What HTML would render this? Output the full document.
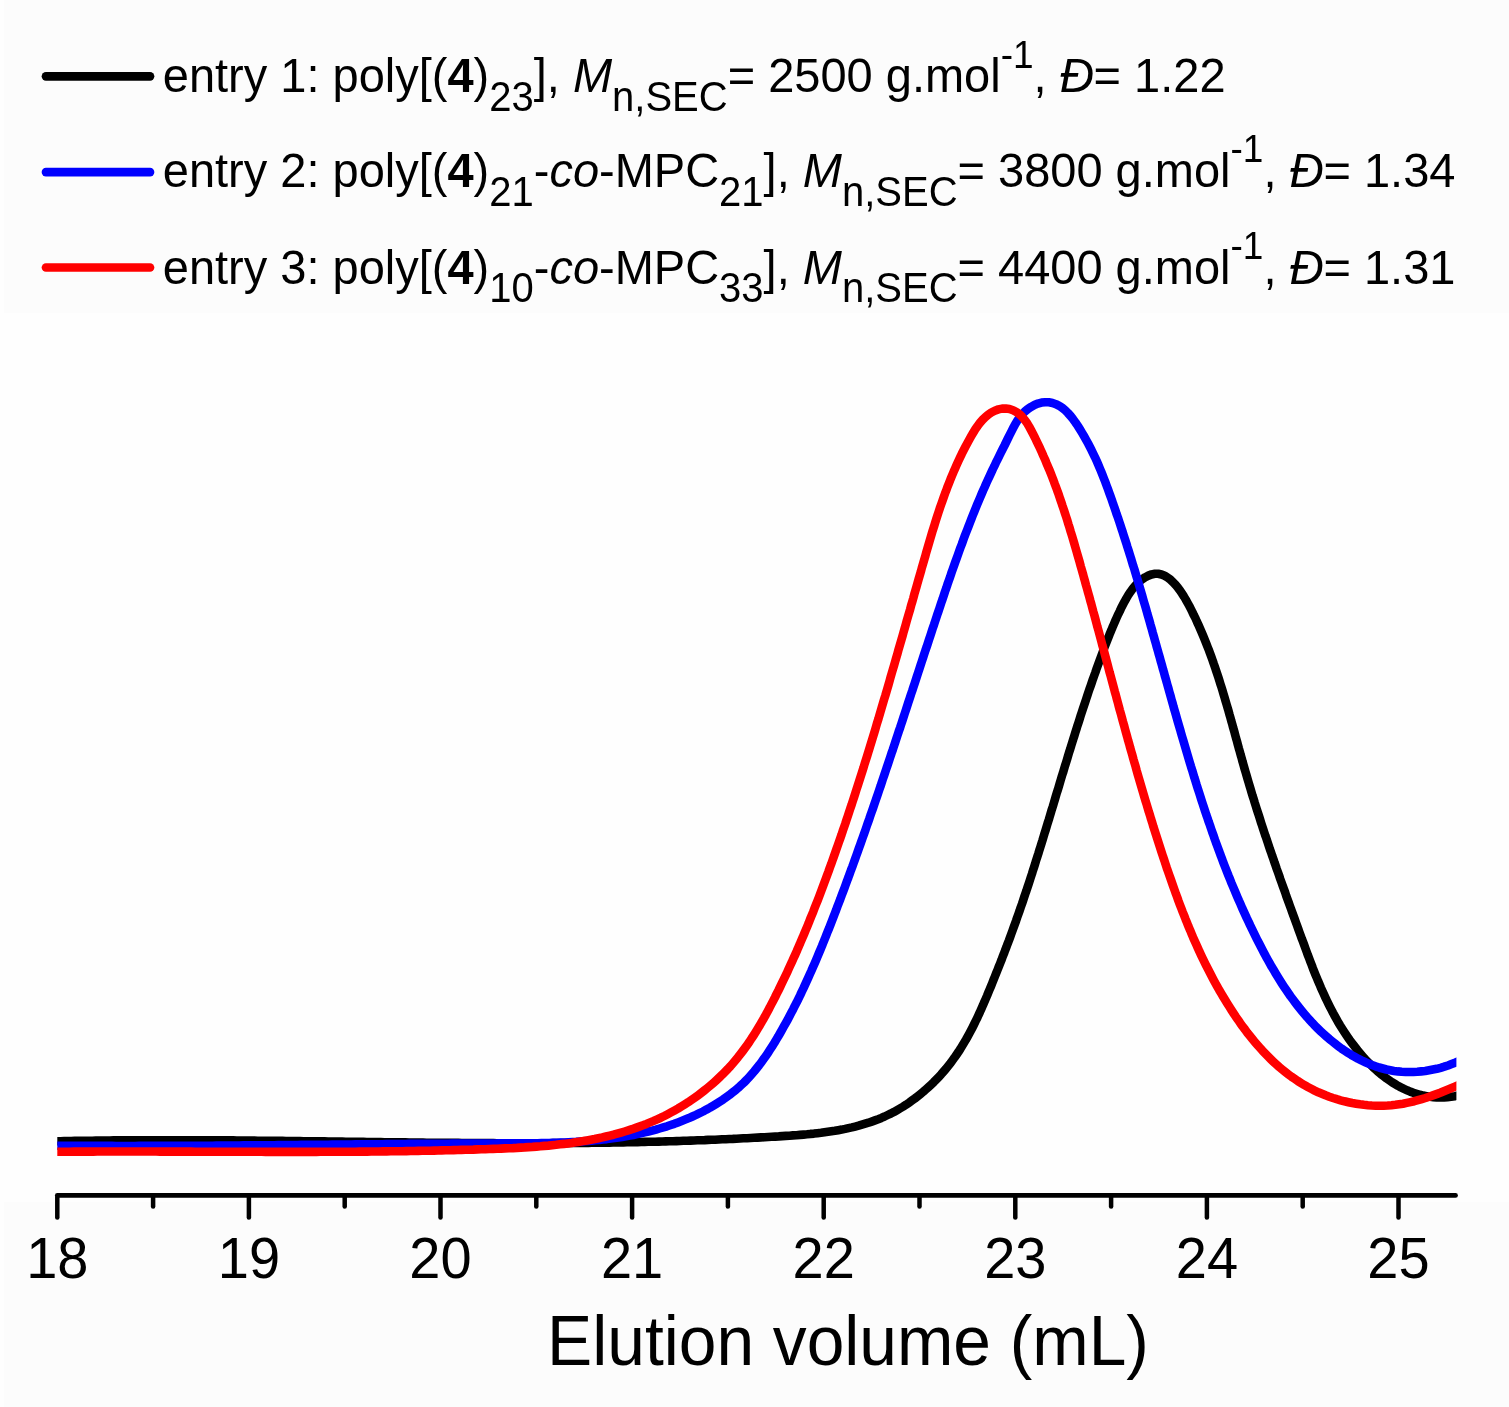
<!DOCTYPE html>
<html><head><meta charset="utf-8"><title>SEC traces</title>
<style>
html,body{margin:0;padding:0;background:#fefefe;}
svg{display:block;}
text{font-family:"Liberation Sans",Arial,sans-serif;fill:#000;}
</style></head><body>
<svg width="1509" height="1407" viewBox="0 0 1509 1407">
<rect x="0" y="0" width="1509" height="1407" fill="#fefefe"/>
<rect x="4" y="0" width="1505" height="313" fill="#fcfcfc"/>
<rect x="4" y="1202" width="1505" height="205" fill="#fcfcfc"/>
<g stroke-linecap="round" stroke-width="8.7">
<line x1="46" y1="76.3" x2="150" y2="76.3" stroke="#000"/>
<line x1="46" y1="172.1" x2="150" y2="172.1" stroke="#0000ff"/>
<line x1="46" y1="267.5" x2="150" y2="267.5" stroke="#ff0000"/>
</g>
<g font-size="47">
<text x="162.8" y="92.5" transform="matrix(1 0 0 1.040 0 -3.70)">entry 1: poly[(<tspan font-weight="bold">4</tspan>)<tspan dy="18" font-size="40">23</tspan><tspan dy="-18">], </tspan><tspan font-style="italic">M</tspan><tspan dy="18" font-size="40">n,SEC</tspan><tspan dy="-18">= 2500 g.mol</tspan><tspan dy="-24" font-size="37">-1</tspan><tspan dy="24">, </tspan><tspan font-style="italic">Đ</tspan>= 1.22</text>
<text x="162.8" y="187.3" transform="matrix(1 0 0 1.040 0 -7.49)">entry 2: poly[(<tspan font-weight="bold">4</tspan>)<tspan dy="18" font-size="40">21</tspan><tspan dy="-18">-</tspan><tspan font-style="italic">co</tspan>-MPC<tspan dy="18" font-size="40">21</tspan><tspan dy="-18">], </tspan><tspan font-style="italic">M</tspan><tspan dy="18" font-size="40">n,SEC</tspan><tspan dy="-18">= 3800 g.mol</tspan><tspan dy="-24" font-size="37">-1</tspan><tspan dy="24">, </tspan><tspan font-style="italic">Đ</tspan>= 1.34</text>
<text x="162.8" y="283.6" transform="matrix(1 0 0 1.040 0 -11.34)">entry 3: poly[(<tspan font-weight="bold">4</tspan>)<tspan dy="18" font-size="40">10</tspan><tspan dy="-18">-</tspan><tspan font-style="italic">co</tspan>-MPC<tspan dy="18" font-size="40">33</tspan><tspan dy="-18">], </tspan><tspan font-style="italic">M</tspan><tspan dy="18" font-size="40">n,SEC</tspan><tspan dy="-18">= 4400 g.mol</tspan><tspan dy="-24" font-size="37">-1</tspan><tspan dy="24">, </tspan><tspan font-style="italic">Đ</tspan>= 1.31</text>
</g>
<defs><clipPath id="pc"><rect x="57.3" y="300" width="1399.1" height="880"/></clipPath></defs>
<g clip-path="url(#pc)" fill="none" stroke-width="8.6" stroke-linejoin="round" stroke-linecap="butt">
<path d="M50.0 1141.4 L53.5 1141.3 L57.0 1141.3 L60.6 1141.2 L64.1 1141.1 L67.6 1141.0 L71.2 1141.0 L74.7 1140.9 L78.2 1140.9 L81.7 1140.8 L85.3 1140.8 L88.8 1140.7 L92.3 1140.7 L95.8 1140.6 L99.4 1140.6 L102.9 1140.5 L106.4 1140.5 L109.9 1140.5 L113.5 1140.4 L117.0 1140.4 L120.5 1140.4 L124.0 1140.3 L127.6 1140.3 L131.1 1140.3 L134.6 1140.3 L138.1 1140.3 L141.7 1140.2 L145.2 1140.2 L148.7 1140.2 L152.2 1140.2 L155.8 1140.2 L159.3 1140.2 L162.8 1140.2 L166.3 1140.2 L169.8 1140.2 L173.4 1140.2 L176.9 1140.2 L180.4 1140.2 L183.9 1140.2 L187.4 1140.2 L191.0 1140.2 L194.5 1140.2 L198.0 1140.2 L201.5 1140.3 L205.0 1140.3 L208.6 1140.3 L212.1 1140.3 L215.6 1140.3 L219.1 1140.3 L222.6 1140.4 L226.2 1140.4 L229.7 1140.4 L233.2 1140.4 L236.7 1140.5 L240.2 1140.5 L243.7 1140.5 L247.3 1140.6 L250.8 1140.6 L254.3 1140.6 L257.8 1140.7 L261.3 1140.7 L264.8 1140.7 L268.4 1140.8 L271.9 1140.8 L275.4 1140.8 L278.9 1140.9 L282.4 1140.9 L285.9 1141.0 L289.5 1141.0 L293.0 1141.0 L296.5 1141.1 L300.0 1141.1 L303.5 1141.2 L307.0 1141.2 L310.6 1141.2 L314.1 1141.3 L317.6 1141.3 L321.1 1141.4 L324.6 1141.4 L328.1 1141.5 L331.6 1141.5 L335.2 1141.6 L338.7 1141.6 L342.2 1141.6 L345.7 1141.7 L349.2 1141.7 L352.7 1141.8 L356.2 1141.8 L359.8 1141.9 L363.3 1141.9 L366.8 1142.0 L370.3 1142.0 L373.8 1142.0 L377.3 1142.1 L380.8 1142.1 L384.4 1142.2 L387.9 1142.2 L391.4 1142.3 L394.9 1142.3 L398.4 1142.3 L401.9 1142.4 L405.5 1142.4 L409.0 1142.5 L412.5 1142.5 L416.0 1142.5 L419.5 1142.6 L423.0 1142.6 L426.5 1142.7 L430.1 1142.7 L433.6 1142.7 L437.1 1142.8 L440.6 1142.8 L444.1 1142.8 L447.6 1142.8 L451.1 1142.9 L454.7 1142.9 L458.2 1142.9 L461.7 1143.0 L465.2 1143.0 L468.7 1143.0 L472.2 1143.0 L475.8 1143.1 L479.3 1143.1 L482.8 1143.1 L486.3 1143.1 L489.8 1143.1 L493.3 1143.1 L496.8 1143.2 L500.4 1143.2 L503.9 1143.2 L507.4 1143.2 L510.9 1143.2 L514.4 1143.2 L517.9 1143.2 L521.5 1143.2 L525.0 1143.2 L528.5 1143.2 L532.0 1143.2 L535.5 1143.2 L539.0 1143.2 L542.6 1143.2 L546.1 1143.2 L549.6 1143.2 L553.1 1143.1 L556.6 1143.1 L560.2 1143.1 L563.7 1143.1 L567.2 1143.1 L570.7 1143.0 L574.2 1143.0 L577.8 1143.0 L581.3 1142.9 L584.8 1142.9 L588.3 1142.9 L591.8 1142.8 L595.4 1142.8 L598.9 1142.7 L602.4 1142.7 L605.9 1142.7 L609.4 1142.6 L613.0 1142.5 L616.5 1142.5 L620.0 1142.4 L623.5 1142.4 L627.0 1142.3 L630.6 1142.2 L634.1 1142.2 L637.6 1142.1 L641.1 1142.0 L644.7 1141.9 L648.2 1141.8 L651.7 1141.8 L655.2 1141.7 L658.8 1141.6 L662.3 1141.5 L665.8 1141.4 L669.3 1141.3 L672.9 1141.2 L676.4 1141.1 L679.9 1141.0 L683.4 1140.8 L687.0 1140.7 L690.5 1140.6 L694.0 1140.5 L697.5 1140.3 L701.1 1140.2 L704.6 1140.1 L708.1 1139.9 L711.6 1139.8 L715.2 1139.7 L718.7 1139.5 L722.2 1139.3 L725.8 1139.2 L729.3 1139.0 L732.8 1138.9 L736.4 1138.7 L739.9 1138.5 L743.4 1138.3 L747.0 1138.2 L750.5 1138.0 L754.0 1137.8 L757.5 1137.6 L761.1 1137.4 L764.6 1137.2 L768.1 1137.0 L771.7 1136.8 L775.2 1136.6 L778.8 1136.4 L782.3 1136.1 L785.8 1135.9 L789.4 1135.7 L792.9 1135.4 L796.4 1135.2 L799.9 1134.9 L803.5 1134.6 L807.0 1134.3 L810.5 1133.9 L814.0 1133.6 L817.5 1133.2 L821.0 1132.8 L824.5 1132.3 L827.9 1131.8 L831.4 1131.3 L834.8 1130.8 L838.3 1130.2 L841.7 1129.6 L845.1 1128.9 L848.5 1128.1 L851.9 1127.4 L855.2 1126.6 L858.6 1125.7 L861.9 1124.7 L865.2 1123.7 L868.5 1122.7 L871.7 1121.6 L875.0 1120.4 L878.2 1119.2 L881.4 1117.9 L884.6 1116.5 L887.7 1115.0 L890.9 1113.5 L894.0 1111.9 L897.0 1110.2 L900.1 1108.4 L903.1 1106.6 L906.1 1104.7 L909.0 1102.7 L911.9 1100.6 L914.8 1098.5 L917.6 1096.3 L920.4 1094.1 L923.2 1091.8 L925.9 1089.4 L928.6 1087.0 L931.2 1084.6 L933.8 1082.1 L936.3 1079.5 L938.8 1076.9 L941.2 1074.3 L943.5 1071.6 L945.9 1068.9 L948.1 1066.1 L950.3 1063.3 L952.4 1060.5 L954.5 1057.6 L956.5 1054.7 L958.5 1051.8 L960.4 1048.9 L962.2 1045.9 L964.0 1042.9 L965.8 1039.9 L967.5 1036.9 L969.2 1033.8 L970.8 1030.8 L972.4 1027.7 L974.0 1024.5 L975.5 1021.4 L977.1 1018.3 L978.5 1015.1 L980.0 1011.9 L981.4 1008.7 L982.8 1005.6 L984.2 1002.3 L985.6 999.1 L987.0 995.9 L988.3 992.7 L989.6 989.5 L991.0 986.2 L992.3 983.0 L993.6 979.7 L994.9 976.5 L996.2 973.2 L997.5 970.0 L998.8 966.7 L1000.1 963.5 L1001.4 960.2 L1002.6 956.9 L1003.9 953.7 L1005.1 950.4 L1006.4 947.1 L1007.6 943.8 L1008.9 940.5 L1010.1 937.2 L1011.3 933.9 L1012.5 930.6 L1013.7 927.3 L1014.9 924.0 L1016.1 920.7 L1017.2 917.4 L1018.4 914.1 L1019.6 910.8 L1020.7 907.4 L1021.9 904.1 L1023.0 900.8 L1024.1 897.4 L1025.2 894.1 L1026.4 890.8 L1027.5 887.4 L1028.6 884.1 L1029.7 880.7 L1030.8 877.3 L1031.9 874.0 L1032.9 870.6 L1034.0 867.3 L1035.1 863.9 L1036.1 860.5 L1037.2 857.2 L1038.3 853.8 L1039.3 850.4 L1040.4 847.0 L1041.4 843.7 L1042.5 840.3 L1043.5 836.9 L1044.5 833.5 L1045.6 830.1 L1046.6 826.8 L1047.6 823.4 L1048.7 820.0 L1049.7 816.6 L1050.7 813.2 L1051.7 809.8 L1052.8 806.5 L1053.8 803.1 L1054.8 799.7 L1055.8 796.3 L1056.8 792.9 L1057.9 789.6 L1058.9 786.2 L1059.9 782.8 L1060.9 779.4 L1061.9 776.0 L1063.0 772.7 L1064.0 769.3 L1065.0 765.9 L1066.1 762.5 L1067.1 759.2 L1068.1 755.8 L1069.1 752.4 L1070.2 749.1 L1071.2 745.7 L1072.3 742.3 L1073.3 739.0 L1074.4 735.6 L1075.4 732.3 L1076.5 728.9 L1077.5 725.6 L1078.6 722.3 L1079.7 718.9 L1080.7 715.6 L1081.8 712.2 L1082.9 708.9 L1084.0 705.6 L1085.1 702.3 L1086.2 699.0 L1087.3 695.7 L1088.4 692.3 L1089.5 689.0 L1090.7 685.7 L1091.8 682.5 L1092.9 679.2 L1094.1 675.9 L1095.3 672.6 L1096.4 669.3 L1097.6 666.1 L1098.8 662.8 L1100.0 659.5 L1101.2 656.3 L1102.4 653.1 L1103.6 649.8 L1104.8 646.6 L1106.0 643.4 L1107.3 640.1 L1108.6 636.9 L1109.8 633.7 L1111.2 630.5 L1112.5 627.3 L1113.9 624.1 L1115.3 620.8 L1116.7 617.6 L1118.2 614.3 L1119.8 611.1 L1121.3 607.8 L1123.0 604.5 L1124.7 601.3 L1126.5 598.1 L1128.4 594.9 L1130.4 591.9 L1132.5 589.0 L1134.8 586.2 L1137.2 583.6 L1139.7 581.2 L1142.4 579.1 L1145.3 577.2 L1148.4 575.6 L1151.6 574.4 L1154.9 573.8 L1158.2 573.8 L1161.5 574.5 L1164.7 575.8 L1167.7 577.6 L1170.6 579.8 L1173.2 582.3 L1175.7 585.0 L1178.0 587.8 L1180.1 590.6 L1182.1 593.6 L1184.0 596.6 L1185.8 599.6 L1187.5 602.7 L1189.2 605.8 L1190.8 608.9 L1192.4 612.1 L1193.9 615.3 L1195.5 618.4 L1196.9 621.6 L1198.4 624.8 L1199.8 628.0 L1201.2 631.2 L1202.6 634.5 L1203.9 637.7 L1205.2 640.9 L1206.5 644.2 L1207.8 647.5 L1209.1 650.7 L1210.3 654.0 L1211.5 657.3 L1212.7 660.6 L1213.8 663.9 L1215.0 667.2 L1216.1 670.6 L1217.2 673.9 L1218.3 677.2 L1219.4 680.6 L1220.4 683.9 L1221.5 687.3 L1222.5 690.6 L1223.5 694.0 L1224.5 697.3 L1225.5 700.7 L1226.5 704.1 L1227.5 707.5 L1228.5 710.8 L1229.4 714.2 L1230.4 717.6 L1231.3 721.0 L1232.3 724.4 L1233.2 727.8 L1234.2 731.2 L1235.1 734.6 L1236.0 738.0 L1237.0 741.4 L1237.9 744.8 L1238.8 748.2 L1239.8 751.6 L1240.7 755.0 L1241.7 758.4 L1242.6 761.8 L1243.6 765.2 L1244.5 768.5 L1245.5 771.9 L1246.5 775.3 L1247.5 778.7 L1248.5 782.1 L1249.5 785.5 L1250.5 788.8 L1251.5 792.2 L1252.5 795.6 L1253.6 798.9 L1254.6 802.3 L1255.7 805.7 L1256.7 809.0 L1257.8 812.4 L1258.9 815.7 L1260.0 819.1 L1261.0 822.4 L1262.1 825.8 L1263.2 829.1 L1264.3 832.5 L1265.4 835.8 L1266.6 839.1 L1267.7 842.5 L1268.8 845.8 L1269.9 849.2 L1271.1 852.5 L1272.2 855.8 L1273.4 859.1 L1274.5 862.5 L1275.7 865.8 L1276.8 869.1 L1278.0 872.4 L1279.2 875.8 L1280.3 879.1 L1281.5 882.4 L1282.7 885.7 L1283.9 889.0 L1285.1 892.3 L1286.2 895.7 L1287.4 899.0 L1288.6 902.3 L1289.8 905.6 L1291.0 908.9 L1292.2 912.2 L1293.4 915.5 L1294.6 918.8 L1295.8 922.1 L1297.0 925.4 L1298.2 928.8 L1299.4 932.1 L1300.6 935.4 L1301.8 938.7 L1303.1 942.0 L1304.3 945.3 L1305.5 948.6 L1306.7 951.9 L1307.9 955.2 L1309.2 958.5 L1310.4 961.7 L1311.7 965.0 L1312.9 968.3 L1314.2 971.6 L1315.5 974.8 L1316.9 978.1 L1318.2 981.3 L1319.6 984.5 L1320.9 987.7 L1322.4 991.0 L1323.8 994.1 L1325.3 997.3 L1326.8 1000.5 L1328.3 1003.6 L1329.9 1006.8 L1331.5 1009.9 L1333.1 1013.0 L1334.8 1016.1 L1336.5 1019.1 L1338.2 1022.2 L1340.0 1025.2 L1341.9 1028.2 L1343.8 1031.2 L1345.7 1034.1 L1347.7 1037.1 L1349.7 1040.0 L1351.8 1042.8 L1354.0 1045.7 L1356.2 1048.5 L1358.4 1051.3 L1360.7 1054.0 L1363.0 1056.7 L1365.4 1059.4 L1367.9 1062.0 L1370.4 1064.5 L1372.9 1067.0 L1375.5 1069.4 L1378.1 1071.7 L1380.8 1074.0 L1383.6 1076.2 L1386.3 1078.3 L1389.2 1080.3 L1392.0 1082.2 L1395.0 1084.0 L1397.9 1085.8 L1400.9 1087.4 L1404.0 1088.9 L1407.1 1090.3 L1410.2 1091.6 L1413.4 1092.8 L1416.6 1093.8 L1419.9 1094.8 L1423.2 1095.6 L1426.5 1096.2 L1429.9 1096.8 L1433.3 1097.1 L1436.8 1097.4 L1440.3 1097.4 L1443.9 1097.4 L1447.4 1097.1 L1451.1 1096.7 L1454.7 1096.2 L1458.4 1095.4 L1462.1 1094.5" stroke="#000"/>
<path d="M50.0 1145.7 L53.9 1145.7 L57.7 1145.7 L61.6 1145.7 L65.5 1145.8 L69.4 1145.8 L73.3 1145.8 L77.1 1145.8 L81.0 1145.9 L84.9 1145.9 L88.8 1145.9 L92.6 1145.9 L96.5 1145.9 L100.4 1145.9 L104.3 1145.9 L108.1 1145.9 L112.0 1145.9 L115.9 1146.0 L119.7 1146.0 L123.6 1146.0 L127.5 1146.0 L131.4 1146.0 L135.2 1146.0 L139.1 1145.9 L143.0 1145.9 L146.8 1145.9 L150.7 1145.9 L154.6 1145.9 L158.4 1145.9 L162.3 1145.9 L166.2 1145.9 L170.0 1145.9 L173.9 1145.9 L177.7 1145.8 L181.6 1145.8 L185.5 1145.8 L189.3 1145.8 L193.2 1145.8 L197.1 1145.7 L200.9 1145.7 L204.8 1145.7 L208.6 1145.7 L212.5 1145.7 L216.4 1145.6 L220.2 1145.6 L224.1 1145.6 L228.0 1145.5 L231.8 1145.5 L235.7 1145.5 L239.5 1145.5 L243.4 1145.4 L247.3 1145.4 L251.1 1145.4 L255.0 1145.3 L258.8 1145.3 L262.7 1145.3 L266.6 1145.2 L270.4 1145.2 L274.3 1145.2 L278.1 1145.1 L282.0 1145.1 L285.9 1145.1 L289.7 1145.0 L293.6 1145.0 L297.4 1145.0 L301.3 1144.9 L305.2 1144.9 L309.0 1144.9 L312.9 1144.8 L316.7 1144.8 L320.6 1144.7 L324.5 1144.7 L328.3 1144.7 L332.2 1144.6 L336.1 1144.6 L339.9 1144.6 L343.8 1144.5 L347.6 1144.5 L351.5 1144.5 L355.4 1144.4 L359.2 1144.4 L363.1 1144.3 L367.0 1144.3 L370.8 1144.3 L374.7 1144.2 L378.6 1144.2 L382.4 1144.2 L386.3 1144.1 L390.2 1144.1 L394.0 1144.1 L397.9 1144.0 L401.8 1144.0 L405.6 1144.0 L409.5 1143.9 L413.4 1143.9 L417.2 1143.9 L421.1 1143.9 L425.0 1143.8 L428.8 1143.8 L432.7 1143.8 L436.6 1143.7 L440.5 1143.7 L444.3 1143.7 L448.2 1143.7 L452.1 1143.6 L456.0 1143.6 L459.8 1143.6 L463.7 1143.6 L467.6 1143.6 L471.5 1143.5 L475.4 1143.5 L479.2 1143.5 L483.1 1143.5 L487.0 1143.5 L490.9 1143.5 L494.8 1143.5 L498.7 1143.4 L502.5 1143.4 L506.4 1143.4 L510.3 1143.4 L514.2 1143.4 L518.1 1143.4 L522.0 1143.4 L525.9 1143.3 L529.7 1143.3 L533.6 1143.3 L537.5 1143.2 L541.4 1143.1 L545.3 1143.1 L549.1 1143.0 L553.0 1142.9 L556.9 1142.8 L560.8 1142.6 L564.6 1142.5 L568.5 1142.3 L572.4 1142.1 L576.2 1141.9 L580.1 1141.6 L583.9 1141.3 L587.8 1141.0 L591.6 1140.7 L595.4 1140.3 L599.3 1140.0 L603.1 1139.5 L606.9 1139.1 L610.7 1138.6 L614.5 1138.1 L618.3 1137.5 L622.1 1136.9 L625.9 1136.3 L629.7 1135.6 L633.4 1134.9 L637.2 1134.1 L640.9 1133.3 L644.7 1132.4 L648.4 1131.5 L652.2 1130.6 L655.9 1129.6 L659.6 1128.5 L663.3 1127.4 L667.0 1126.3 L670.7 1125.0 L674.3 1123.8 L678.0 1122.4 L681.6 1121.0 L685.2 1119.6 L688.9 1118.1 L692.4 1116.5 L696.0 1114.9 L699.5 1113.2 L703.0 1111.5 L706.4 1109.6 L709.8 1107.8 L713.2 1105.8 L716.5 1103.8 L719.8 1101.7 L723.0 1099.6 L726.2 1097.3 L729.3 1095.1 L732.3 1092.7 L735.3 1090.3 L738.3 1087.8 L741.1 1085.2 L743.9 1082.6 L746.6 1079.9 L749.2 1077.1 L751.8 1074.2 L754.3 1071.3 L756.7 1068.3 L759.1 1065.3 L761.4 1062.2 L763.6 1059.1 L765.9 1056.0 L768.0 1052.8 L770.1 1049.5 L772.2 1046.3 L774.3 1043.0 L776.3 1039.6 L778.3 1036.3 L780.2 1033.0 L782.1 1029.6 L784.0 1026.2 L785.9 1022.8 L787.8 1019.5 L789.6 1016.0 L791.4 1012.6 L793.2 1009.2 L794.9 1005.7 L796.7 1002.3 L798.4 998.8 L800.1 995.4 L801.7 991.9 L803.4 988.4 L805.0 984.9 L806.6 981.4 L808.2 977.9 L809.8 974.3 L811.4 970.8 L812.9 967.3 L814.5 963.7 L816.0 960.2 L817.5 956.6 L819.0 953.0 L820.5 949.5 L822.0 945.9 L823.4 942.3 L824.9 938.7 L826.3 935.1 L827.7 931.5 L829.2 928.0 L830.6 924.4 L832.0 920.7 L833.4 917.1 L834.8 913.5 L836.2 909.9 L837.5 906.3 L838.9 902.7 L840.3 899.1 L841.6 895.5 L843.0 891.9 L844.4 888.2 L845.7 884.6 L847.0 881.0 L848.4 877.4 L849.7 873.7 L851.0 870.1 L852.4 866.5 L853.7 862.9 L855.0 859.2 L856.3 855.6 L857.6 852.0 L858.9 848.3 L860.2 844.7 L861.5 841.0 L862.8 837.4 L864.1 833.8 L865.4 830.1 L866.6 826.5 L867.9 822.8 L869.2 819.2 L870.4 815.5 L871.7 811.9 L873.0 808.2 L874.2 804.6 L875.5 800.9 L876.7 797.3 L878.0 793.6 L879.2 790.0 L880.5 786.3 L881.7 782.6 L882.9 779.0 L884.2 775.3 L885.4 771.7 L886.6 768.0 L887.9 764.3 L889.1 760.7 L890.3 757.0 L891.5 753.3 L892.8 749.7 L894.0 746.0 L895.2 742.3 L896.4 738.7 L897.6 735.0 L898.8 731.3 L900.1 727.7 L901.3 724.0 L902.5 720.3 L903.7 716.6 L904.9 713.0 L906.1 709.3 L907.3 705.6 L908.5 701.9 L909.7 698.3 L910.9 694.6 L912.2 690.9 L913.4 687.2 L914.6 683.6 L915.8 679.9 L917.0 676.2 L918.2 672.5 L919.4 668.9 L920.6 665.2 L921.8 661.5 L923.0 657.8 L924.2 654.2 L925.4 650.5 L926.7 646.8 L927.9 643.1 L929.1 639.4 L930.3 635.8 L931.5 632.1 L932.7 628.4 L934.0 624.7 L935.2 621.0 L936.4 617.4 L937.6 613.7 L938.9 610.0 L940.1 606.3 L941.3 602.7 L942.6 599.0 L943.8 595.3 L945.0 591.6 L946.3 588.0 L947.5 584.3 L948.8 580.6 L950.1 577.0 L951.3 573.3 L952.6 569.6 L953.9 566.0 L955.2 562.3 L956.5 558.7 L957.8 555.1 L959.1 551.4 L960.4 547.8 L961.8 544.2 L963.1 540.5 L964.4 536.9 L965.8 533.3 L967.2 529.7 L968.6 526.1 L970.0 522.5 L971.4 518.9 L972.8 515.3 L974.2 511.8 L975.7 508.2 L977.1 504.7 L978.6 501.1 L980.1 497.6 L981.6 494.0 L983.1 490.5 L984.7 487.0 L986.2 483.5 L987.8 480.0 L989.4 476.6 L991.0 473.1 L992.6 469.6 L994.3 466.2 L995.9 462.7 L997.6 459.3 L999.3 455.9 L1001.0 452.4 L1002.7 449.0 L1004.5 445.5 L1006.2 442.0 L1007.9 438.5 L1009.7 434.9 L1011.5 431.3 L1013.3 427.8 L1015.2 424.2 L1017.3 420.8 L1019.5 417.6 L1022.0 414.5 L1024.7 411.6 L1027.7 409.1 L1031.0 406.9 L1034.4 405.0 L1037.9 403.6 L1041.6 402.6 L1045.2 402.2 L1048.9 402.3 L1052.5 403.0 L1055.9 404.2 L1059.2 405.8 L1062.3 407.9 L1065.2 410.3 L1067.9 413.0 L1070.6 416.0 L1073.1 419.2 L1075.5 422.5 L1077.8 425.9 L1080.0 429.4 L1082.1 432.9 L1084.1 436.3 L1086.1 439.8 L1088.0 443.3 L1089.8 446.8 L1091.6 450.3 L1093.3 453.8 L1095.0 457.3 L1096.6 460.8 L1098.1 464.3 L1099.6 467.9 L1101.1 471.4 L1102.5 474.9 L1103.9 478.5 L1105.3 482.0 L1106.6 485.6 L1107.9 489.1 L1109.2 492.7 L1110.5 496.3 L1111.8 499.9 L1113.0 503.5 L1114.3 507.1 L1115.5 510.7 L1116.7 514.3 L1118.0 517.9 L1119.2 521.5 L1120.4 525.1 L1121.6 528.8 L1122.8 532.4 L1123.9 536.0 L1125.1 539.7 L1126.3 543.3 L1127.4 547.0 L1128.6 550.7 L1129.7 554.3 L1130.9 558.0 L1132.0 561.7 L1133.1 565.4 L1134.3 569.0 L1135.4 572.7 L1136.5 576.4 L1137.6 580.1 L1138.7 583.8 L1139.8 587.5 L1140.9 591.2 L1142.0 594.9 L1143.0 598.6 L1144.1 602.4 L1145.2 606.1 L1146.3 609.8 L1147.3 613.5 L1148.4 617.2 L1149.5 621.0 L1150.5 624.7 L1151.6 628.4 L1152.6 632.2 L1153.7 635.9 L1154.7 639.6 L1155.8 643.4 L1156.8 647.1 L1157.9 650.9 L1158.9 654.6 L1160.0 658.3 L1161.0 662.1 L1162.1 665.8 L1163.1 669.6 L1164.2 673.3 L1165.2 677.1 L1166.3 680.8 L1167.3 684.5 L1168.4 688.3 L1169.4 692.0 L1170.5 695.8 L1171.5 699.5 L1172.6 703.3 L1173.6 707.0 L1174.7 710.7 L1175.8 714.5 L1176.8 718.2 L1177.9 722.0 L1179.0 725.7 L1180.1 729.4 L1181.1 733.1 L1182.2 736.9 L1183.3 740.6 L1184.4 744.3 L1185.5 748.0 L1186.6 751.8 L1187.7 755.5 L1188.8 759.2 L1189.9 762.9 L1191.0 766.6 L1192.2 770.3 L1193.3 774.0 L1194.4 777.7 L1195.6 781.4 L1196.7 785.1 L1197.9 788.8 L1199.1 792.5 L1200.2 796.1 L1201.4 799.8 L1202.6 803.5 L1203.8 807.1 L1205.0 810.8 L1206.2 814.5 L1207.5 818.1 L1208.7 821.8 L1210.0 825.4 L1211.2 829.0 L1212.5 832.7 L1213.8 836.3 L1215.0 839.9 L1216.3 843.5 L1217.7 847.2 L1219.0 850.8 L1220.3 854.4 L1221.7 858.0 L1223.0 861.6 L1224.4 865.2 L1225.8 868.8 L1227.2 872.3 L1228.6 875.9 L1230.1 879.5 L1231.5 883.1 L1233.0 886.6 L1234.5 890.2 L1236.0 893.7 L1237.5 897.3 L1239.0 900.8 L1240.6 904.3 L1242.1 907.9 L1243.7 911.4 L1245.3 914.9 L1246.9 918.4 L1248.6 921.9 L1250.2 925.4 L1251.9 928.9 L1253.6 932.4 L1255.3 935.9 L1257.0 939.3 L1258.8 942.8 L1260.6 946.3 L1262.4 949.7 L1264.2 953.2 L1266.0 956.6 L1267.9 960.0 L1269.8 963.4 L1271.7 966.8 L1273.7 970.1 L1275.7 973.5 L1277.7 976.8 L1279.7 980.1 L1281.8 983.4 L1283.9 986.6 L1286.1 989.8 L1288.3 993.0 L1290.5 996.2 L1292.8 999.3 L1295.1 1002.4 L1297.5 1005.5 L1299.9 1008.5 L1302.3 1011.5 L1304.8 1014.5 L1307.3 1017.4 L1309.9 1020.2 L1312.5 1023.1 L1315.2 1025.9 L1317.9 1028.6 L1320.7 1031.3 L1323.5 1033.9 L1326.4 1036.5 L1329.4 1039.1 L1332.4 1041.5 L1335.4 1043.9 L1338.5 1046.3 L1341.6 1048.6 L1344.8 1050.8 L1348.0 1052.9 L1351.3 1054.9 L1354.6 1056.8 L1358.0 1058.7 L1361.4 1060.4 L1364.9 1062.0 L1368.4 1063.6 L1371.9 1065.0 L1375.5 1066.3 L1379.1 1067.5 L1382.8 1068.5 L1386.5 1069.5 L1390.3 1070.2 L1394.0 1070.9 L1397.9 1071.4 L1401.7 1071.8 L1405.6 1072.0 L1409.5 1072.0 L1413.4 1072.0 L1417.3 1071.8 L1421.3 1071.4 L1425.2 1071.0 L1429.1 1070.3 L1432.9 1069.6 L1436.8 1068.8 L1440.6 1067.8 L1444.3 1066.7 L1448.0 1065.5 L1451.6 1064.1 L1455.1 1062.7 L1458.6 1061.2 L1462.0 1059.5" stroke="#0000ff"/>
<path d="M50.0 1151.8 L53.9 1151.8 L57.9 1151.8 L61.8 1151.7 L65.8 1151.7 L69.7 1151.7 L73.6 1151.6 L77.6 1151.6 L81.5 1151.6 L85.4 1151.6 L89.4 1151.6 L93.3 1151.6 L97.2 1151.5 L101.2 1151.5 L105.1 1151.5 L109.0 1151.5 L113.0 1151.5 L116.9 1151.5 L120.8 1151.5 L124.7 1151.5 L128.7 1151.5 L132.6 1151.5 L136.5 1151.5 L140.4 1151.5 L144.3 1151.5 L148.3 1151.5 L152.2 1151.5 L156.1 1151.5 L160.0 1151.6 L163.9 1151.6 L167.8 1151.6 L171.7 1151.6 L175.7 1151.6 L179.6 1151.6 L183.5 1151.6 L187.4 1151.6 L191.3 1151.6 L195.2 1151.7 L199.1 1151.7 L203.0 1151.7 L207.0 1151.7 L210.9 1151.7 L214.8 1151.7 L218.7 1151.7 L222.6 1151.7 L226.5 1151.8 L230.4 1151.8 L234.3 1151.8 L238.2 1151.8 L242.1 1151.8 L246.0 1151.8 L249.9 1151.8 L253.8 1151.8 L257.7 1151.8 L261.7 1151.8 L265.6 1151.9 L269.5 1151.9 L273.4 1151.9 L277.3 1151.9 L281.2 1151.9 L285.1 1151.9 L289.0 1151.9 L292.9 1151.9 L296.8 1151.9 L300.7 1151.9 L304.6 1151.9 L308.5 1151.9 L312.5 1151.9 L316.4 1151.9 L320.3 1151.8 L324.2 1151.8 L328.1 1151.8 L332.0 1151.8 L335.9 1151.8 L339.8 1151.8 L343.7 1151.7 L347.7 1151.7 L351.6 1151.7 L355.5 1151.7 L359.4 1151.6 L363.3 1151.6 L367.2 1151.6 L371.1 1151.5 L375.1 1151.5 L379.0 1151.5 L382.9 1151.4 L386.8 1151.4 L390.7 1151.3 L394.7 1151.3 L398.6 1151.2 L402.5 1151.2 L406.4 1151.1 L410.4 1151.0 L414.3 1151.0 L418.2 1150.9 L422.2 1150.8 L426.1 1150.7 L430.0 1150.7 L433.9 1150.6 L437.9 1150.5 L441.8 1150.4 L445.8 1150.3 L449.7 1150.2 L453.6 1150.1 L457.6 1150.0 L461.5 1149.9 L465.5 1149.8 L469.4 1149.7 L473.3 1149.6 L477.3 1149.4 L481.2 1149.3 L485.2 1149.2 L489.2 1149.0 L493.1 1148.9 L497.1 1148.8 L501.0 1148.6 L505.0 1148.4 L508.9 1148.2 L512.9 1148.1 L516.8 1147.9 L520.8 1147.6 L524.7 1147.4 L528.6 1147.1 L532.6 1146.9 L536.5 1146.6 L540.4 1146.3 L544.4 1145.9 L548.3 1145.6 L552.2 1145.2 L556.1 1144.8 L560.0 1144.3 L563.9 1143.9 L567.7 1143.4 L571.6 1142.9 L575.5 1142.3 L579.3 1141.7 L583.2 1141.1 L587.0 1140.4 L590.8 1139.7 L594.6 1139.0 L598.4 1138.2 L602.2 1137.4 L606.0 1136.5 L609.8 1135.6 L613.5 1134.7 L617.2 1133.7 L621.0 1132.6 L624.7 1131.5 L628.3 1130.4 L632.0 1129.2 L635.7 1127.9 L639.3 1126.6 L642.9 1125.3 L646.5 1123.9 L650.1 1122.4 L653.7 1120.9 L657.2 1119.3 L660.8 1117.7 L664.3 1116.0 L667.7 1114.2 L671.2 1112.3 L674.6 1110.4 L678.1 1108.5 L681.5 1106.4 L684.8 1104.3 L688.2 1102.2 L691.4 1100.0 L694.7 1097.7 L697.9 1095.4 L701.1 1093.0 L704.3 1090.5 L707.4 1088.0 L710.4 1085.5 L713.4 1082.9 L716.4 1080.2 L719.3 1077.5 L722.2 1074.7 L724.9 1071.9 L727.7 1069.1 L730.4 1066.2 L733.0 1063.2 L735.5 1060.2 L738.0 1057.2 L740.4 1054.1 L742.8 1051.0 L745.1 1047.9 L747.4 1044.7 L749.6 1041.5 L751.7 1038.2 L753.9 1035.0 L755.9 1031.7 L758.0 1028.3 L760.0 1025.0 L761.9 1021.6 L763.9 1018.2 L765.8 1014.8 L767.6 1011.4 L769.5 1007.9 L771.3 1004.4 L773.1 1001.0 L774.9 997.5 L776.6 994.0 L778.4 990.5 L780.1 987.0 L781.8 983.4 L783.5 979.9 L785.2 976.4 L786.9 972.9 L788.5 969.3 L790.1 965.8 L791.8 962.2 L793.4 958.6 L795.0 955.1 L796.6 951.5 L798.1 947.9 L799.7 944.3 L801.2 940.7 L802.8 937.1 L804.3 933.5 L805.8 929.9 L807.3 926.3 L808.8 922.7 L810.2 919.0 L811.7 915.4 L813.2 911.8 L814.6 908.1 L816.0 904.5 L817.5 900.8 L818.9 897.2 L820.3 893.5 L821.7 889.8 L823.0 886.2 L824.4 882.5 L825.8 878.8 L827.1 875.2 L828.5 871.5 L829.8 867.8 L831.2 864.1 L832.5 860.4 L833.8 856.7 L835.1 853.0 L836.4 849.3 L837.7 845.6 L839.0 841.9 L840.3 838.2 L841.6 834.5 L842.8 830.8 L844.1 827.1 L845.4 823.4 L846.6 819.7 L847.9 815.9 L849.1 812.2 L850.3 808.5 L851.6 804.8 L852.8 801.0 L854.0 797.3 L855.2 793.6 L856.4 789.8 L857.6 786.1 L858.8 782.4 L860.0 778.6 L861.2 774.9 L862.4 771.1 L863.6 767.4 L864.7 763.6 L865.9 759.9 L867.1 756.1 L868.2 752.4 L869.4 748.6 L870.5 744.9 L871.7 741.1 L872.8 737.4 L874.0 733.6 L875.1 729.9 L876.2 726.1 L877.3 722.3 L878.5 718.6 L879.6 714.8 L880.7 711.1 L881.8 707.3 L882.9 703.5 L884.0 699.8 L885.2 696.0 L886.3 692.2 L887.4 688.5 L888.5 684.7 L889.6 680.9 L890.6 677.2 L891.7 673.4 L892.8 669.6 L893.9 665.9 L895.0 662.1 L896.1 658.3 L897.2 654.6 L898.2 650.8 L899.3 647.0 L900.4 643.3 L901.5 639.5 L902.6 635.7 L903.6 632.0 L904.7 628.2 L905.8 624.4 L906.8 620.7 L907.9 616.9 L909.0 613.1 L910.1 609.4 L911.1 605.6 L912.2 601.9 L913.3 598.1 L914.3 594.3 L915.4 590.6 L916.5 586.8 L917.5 583.1 L918.6 579.3 L919.7 575.5 L920.8 571.8 L921.8 568.0 L922.9 564.3 L924.0 560.5 L925.1 556.8 L926.1 553.0 L927.2 549.3 L928.3 545.5 L929.4 541.8 L930.5 538.1 L931.6 534.3 L932.7 530.6 L933.9 526.9 L935.0 523.2 L936.2 519.4 L937.4 515.7 L938.6 512.0 L939.8 508.3 L941.1 504.6 L942.4 501.0 L943.7 497.3 L945.0 493.6 L946.4 489.9 L947.7 486.3 L949.2 482.6 L950.6 479.0 L952.1 475.4 L953.6 471.8 L955.2 468.2 L956.8 464.6 L958.4 461.0 L960.1 457.4 L961.8 453.8 L963.6 450.3 L965.4 446.8 L967.3 443.2 L969.2 439.7 L971.2 436.2 L973.2 432.8 L975.3 429.3 L977.6 426.0 L979.9 422.9 L982.5 419.9 L985.2 417.2 L988.1 414.7 L991.3 412.5 L994.8 410.7 L998.4 409.4 L1002.1 408.6 L1005.8 408.5 L1009.5 409.0 L1013.0 410.2 L1016.4 412.0 L1019.4 414.2 L1022.2 416.9 L1024.8 420.0 L1027.2 423.3 L1029.3 426.9 L1031.3 430.6 L1033.2 434.3 L1035.1 438.0 L1036.8 441.6 L1038.5 445.2 L1040.2 448.7 L1041.8 452.2 L1043.3 455.7 L1044.9 459.2 L1046.3 462.7 L1047.8 466.2 L1049.3 469.7 L1050.7 473.2 L1052.1 476.8 L1053.5 480.4 L1054.8 484.0 L1056.2 487.6 L1057.5 491.2 L1058.8 494.8 L1060.0 498.5 L1061.3 502.2 L1062.5 505.9 L1063.8 509.6 L1065.0 513.3 L1066.2 517.0 L1067.4 520.7 L1068.5 524.5 L1069.7 528.2 L1070.8 532.0 L1072.0 535.8 L1073.1 539.5 L1074.2 543.3 L1075.3 547.1 L1076.4 550.9 L1077.5 554.7 L1078.6 558.5 L1079.7 562.3 L1080.7 566.1 L1081.8 569.9 L1082.9 573.7 L1083.9 577.5 L1085.0 581.3 L1086.0 585.1 L1087.1 588.9 L1088.1 592.6 L1089.2 596.4 L1090.2 600.2 L1091.3 604.0 L1092.3 607.8 L1093.3 611.6 L1094.4 615.4 L1095.4 619.2 L1096.4 623.0 L1097.4 626.8 L1098.5 630.6 L1099.5 634.4 L1100.5 638.2 L1101.5 642.0 L1102.5 645.8 L1103.6 649.5 L1104.6 653.3 L1105.6 657.1 L1106.6 660.9 L1107.6 664.7 L1108.6 668.5 L1109.6 672.3 L1110.7 676.1 L1111.7 679.8 L1112.7 683.6 L1113.7 687.4 L1114.7 691.2 L1115.8 695.0 L1116.8 698.8 L1117.8 702.5 L1118.8 706.3 L1119.8 710.1 L1120.9 713.9 L1121.9 717.6 L1122.9 721.4 L1124.0 725.2 L1125.0 729.0 L1126.0 732.7 L1127.1 736.5 L1128.1 740.3 L1129.2 744.0 L1130.2 747.8 L1131.3 751.6 L1132.4 755.3 L1133.4 759.1 L1134.5 762.9 L1135.6 766.6 L1136.6 770.4 L1137.7 774.2 L1138.8 777.9 L1139.9 781.7 L1141.0 785.4 L1142.1 789.2 L1143.2 792.9 L1144.3 796.7 L1145.4 800.4 L1146.6 804.2 L1147.7 807.9 L1148.8 811.7 L1150.0 815.4 L1151.1 819.2 L1152.3 822.9 L1153.4 826.7 L1154.6 830.4 L1155.8 834.1 L1157.0 837.9 L1158.2 841.6 L1159.4 845.3 L1160.6 849.1 L1161.8 852.8 L1163.0 856.5 L1164.3 860.2 L1165.5 864.0 L1166.7 867.7 L1168.0 871.4 L1169.3 875.1 L1170.6 878.8 L1171.9 882.5 L1173.2 886.2 L1174.5 889.9 L1175.8 893.6 L1177.2 897.3 L1178.5 901.0 L1179.9 904.7 L1181.3 908.3 L1182.7 912.0 L1184.2 915.7 L1185.6 919.3 L1187.1 922.9 L1188.5 926.6 L1190.1 930.2 L1191.6 933.8 L1193.1 937.4 L1194.7 941.0 L1196.3 944.6 L1197.9 948.1 L1199.5 951.7 L1201.2 955.3 L1202.9 958.8 L1204.6 962.3 L1206.3 965.8 L1208.1 969.3 L1209.9 972.8 L1211.7 976.3 L1213.5 979.7 L1215.4 983.2 L1217.3 986.6 L1219.2 990.0 L1221.2 993.4 L1223.2 996.8 L1225.2 1000.1 L1227.3 1003.5 L1229.4 1006.8 L1231.5 1010.1 L1233.6 1013.4 L1235.8 1016.7 L1238.1 1019.9 L1240.3 1023.2 L1242.6 1026.4 L1245.0 1029.5 L1247.3 1032.7 L1249.8 1035.8 L1252.2 1038.8 L1254.7 1041.9 L1257.3 1044.8 L1259.9 1047.8 L1262.5 1050.7 L1265.2 1053.5 L1267.9 1056.3 L1270.7 1059.1 L1273.5 1061.8 L1276.3 1064.4 L1279.2 1067.0 L1282.2 1069.5 L1285.2 1071.9 L1288.3 1074.3 L1291.4 1076.6 L1294.6 1078.8 L1297.8 1081.0 L1301.1 1083.1 L1304.4 1085.1 L1307.8 1087.0 L1311.2 1088.8 L1314.7 1090.6 L1318.3 1092.3 L1321.9 1093.8 L1325.6 1095.3 L1329.3 1096.7 L1333.0 1098.0 L1336.8 1099.2 L1340.6 1100.3 L1344.5 1101.3 L1348.4 1102.2 L1352.2 1103.0 L1356.2 1103.7 L1360.1 1104.3 L1364.0 1104.8 L1367.9 1105.2 L1371.9 1105.5 L1375.8 1105.7 L1379.7 1105.7 L1383.7 1105.7 L1387.6 1105.5 L1391.4 1105.2 L1395.3 1104.8 L1399.1 1104.3 L1403.0 1103.7 L1406.8 1102.9 L1410.5 1102.1 L1414.3 1101.2 L1418.0 1100.2 L1421.8 1099.1 L1425.5 1098.0 L1429.2 1096.7 L1432.9 1095.4 L1436.5 1094.1 L1440.2 1092.7 L1443.8 1091.2 L1447.5 1089.7 L1451.1 1088.2 L1454.8 1086.7 L1458.4 1085.1 L1462.0 1083.5" stroke="#ff0000"/>
</g>
<g stroke="#000" stroke-width="4.5" stroke-linecap="round">
<line x1="57.3" y1="1195.4" x2="1455.5" y2="1195.4" stroke-width="4.8"/>
<line x1="57.3" y1="1197" x2="57.3" y2="1217.6" /><line x1="153.1" y1="1197" x2="153.1" y2="1206.5" /><line x1="248.9" y1="1197" x2="248.9" y2="1217.6" /><line x1="344.7" y1="1197" x2="344.7" y2="1206.5" /><line x1="440.5" y1="1197" x2="440.5" y2="1217.6" /><line x1="536.3" y1="1197" x2="536.3" y2="1206.5" /><line x1="632.1" y1="1197" x2="632.1" y2="1217.6" /><line x1="727.9" y1="1197" x2="727.9" y2="1206.5" /><line x1="823.7" y1="1197" x2="823.7" y2="1217.6" /><line x1="919.5" y1="1197" x2="919.5" y2="1206.5" /><line x1="1015.3" y1="1197" x2="1015.3" y2="1217.6" /><line x1="1111.1" y1="1197" x2="1111.1" y2="1206.5" /><line x1="1206.9" y1="1197" x2="1206.9" y2="1217.6" /><line x1="1302.7" y1="1197" x2="1302.7" y2="1206.5" /><line x1="1398.5" y1="1197" x2="1398.5" y2="1217.6" />
</g>
<g font-size="56">
<text x="57.3" y="1278" text-anchor="middle" transform="matrix(1 0 0 1.040 0 -51.12)">18</text><text x="248.9" y="1278" text-anchor="middle" transform="matrix(1 0 0 1.040 0 -51.12)">19</text><text x="440.5" y="1278" text-anchor="middle" transform="matrix(1 0 0 1.040 0 -51.12)">20</text><text x="632.1" y="1278" text-anchor="middle" transform="matrix(1 0 0 1.040 0 -51.12)">21</text><text x="823.7" y="1278" text-anchor="middle" transform="matrix(1 0 0 1.040 0 -51.12)">22</text><text x="1015.3" y="1278" text-anchor="middle" transform="matrix(1 0 0 1.040 0 -51.12)">23</text><text x="1206.9" y="1278" text-anchor="middle" transform="matrix(1 0 0 1.040 0 -51.12)">24</text><text x="1398.5" y="1278" text-anchor="middle" transform="matrix(1 0 0 1.040 0 -51.12)">25</text>
</g>
<text x="848" y="1365" font-size="67.7" text-anchor="middle" transform="matrix(1 0 0 1.040 0 -54.60)">Elution volume (mL)</text>
</svg>
</body></html>
